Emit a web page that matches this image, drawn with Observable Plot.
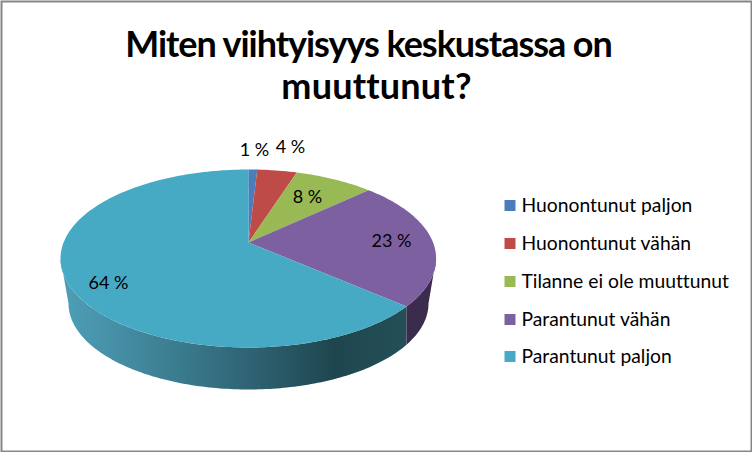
<!DOCTYPE html>
<html>
<head>
<meta charset="utf-8">
<script src="https://cdn.jsdelivr.net/npm/d3@7"></script>
<script src="https://cdn.jsdelivr.net/npm/@observablehq/plot@0.6"></script>
<style>
html,body{margin:0;padding:0;background:#fff}
svg{display:block}
svg text{font-variant-ligatures:none;font-feature-settings:"liga" 0,"clig" 0}
.title-a text{letter-spacing:-1.05px}
.title-b text{letter-spacing:0.2px}
</style>
</head>
<body>
<div id="chart"></div>
<script>
const categories = ["Huonontunut paljon","Huonontunut vähän","Tilanne ei ole muuttunut","Parantunut vähän","Parantunut paljon"];
const percentLabels = ["1 %","4 %","8 %","23 %","64 %"];
const arcShares = [0.76,3.4,6.9,23.0,65.94]; // slice sizes as drawn in the picture
const colors = ["#4a7ebb","#be4b48","#98b954","#7d60a0","#46aac5"];
const labelX = [254,290,307,391,108];
const labelY = [150,147,197,241,283];
const legendY = [205,243,281,319,356];
const titleLines = ["Miten viihtyisyys keskustassa on","muuttunut?"];

const top_ = {cx:247.8, cy:258, rx:187.8, ry:89};
const bottom_ = {cx:248, cy:303, rx:180, ry:86};
const apex = {x:248, y:242};
const pt = (e,t)=>({x:e.cx+e.rx*Math.sin(t), y:e.cy-e.ry*Math.cos(t)});
const arc = (e,t0,t1)=>{const n=Math.max(2,Math.ceil(Math.abs(t1-t0)/0.02));return d3.range(n+1).map(i=>pt(e,t0+(t1-t0)*i/n));};

// top surface
let acc = 0;
const sum = d3.sum(arcShares);
const slices = categories.flatMap((name,i)=>{
  const t0 = acc/sum*2*Math.PI; acc += arcShares[i]; const t1 = acc/sum*2*Math.PI;
  return [{...apex,name},...arc(top_,t0,t1).map(p=>({...p,name}))];
});
// side walls
const tb = (arcShares[0]+arcShares[1]+arcShares[2]+arcShares[3])/sum*2*Math.PI;
const tbBottom = Math.PI-Math.asin((pt(top_,tb).x-bottom_.cx)/bottom_.rx);
const wallPurple = [...arc(top_,Math.PI/2,tb),...arc(bottom_,tbBottom,Math.PI/2)];
const wallTeal = [...arc(top_,tb,1.5*Math.PI),...arc(bottom_,1.5*Math.PI,tbBottom)];

const defs = ()=>{
  const s = d3.create("svg:defs");
  const g = s.append("linearGradient").attr("id","wallTeal").attr("gradientUnits","userSpaceOnUse")
    .attr("x1",60).attr("x2",410).attr("y1",0).attr("y2",0);
  [[0,"#4d9fb8"],[0.12,"#4893aa"],[0.35,"#3a7a8d"],[0.55,"#2e6272"],[0.78,"#1f464f"],[1,"#245058"]]
    .forEach(([o,c])=>g.append("stop").attr("offset",o).attr("stop-color",c));
  return s.node();
};

const legend = categories.map((name,i)=>({name,y:legendY[i]}));
const labels = percentLabels.map((t,i)=>({t,x:labelX[i],y:labelY[i]}));

const plot = Plot.plot({
  width:752, height:452,
  margin:0,
  style:{background:"#fff",fontFamily:"Lato, Carlito, sans-serif",color:"#000"},
  x:{domain:[0,752],range:[0,752],axis:null},
  y:{domain:[0,452],range:[0,452],axis:null},
  color:{domain:categories,range:colors},
  marks:[
    defs,
    Plot.line(wallTeal,{x:"x",y:"y",fill:"url(#wallTeal)",stroke:"none"}),
    Plot.line(wallPurple,{x:"x",y:"y",fill:"#3b2b4d",stroke:"none"}),
    Plot.line(slices,{x:"x",y:"y",z:"name",fill:"name",stroke:"none"}),
    Plot.text(labels,{x:"x",y:"y",text:"t",fontSize:18,fill:"#000"}),
    Plot.dot(legend,{x:()=>509.5,y:"y",fill:"name",symbol:"square",r:6.2,stroke:"none"}),
    Plot.text(legend,{x:()=>521,y:"y",text:"name",textAnchor:"start",fontSize:19.3,fill:"#000"}),
    Plot.text([titleLines[0]],{x:()=>368,y:()=>45,text:d=>d,fontSize:36,fontWeight:"bold",fill:"#000",className:"title-a"}),
    Plot.text([titleLines[1]],{x:()=>376,y:()=>87,text:d=>d,fontSize:36,fontWeight:"bold",fill:"#000",className:"title-b"}),
    Plot.frame({stroke:"#868686",strokeWidth:2,inset:1})
  ]
});
document.getElementById("chart").append(plot);
</script>
</body>
</html>
